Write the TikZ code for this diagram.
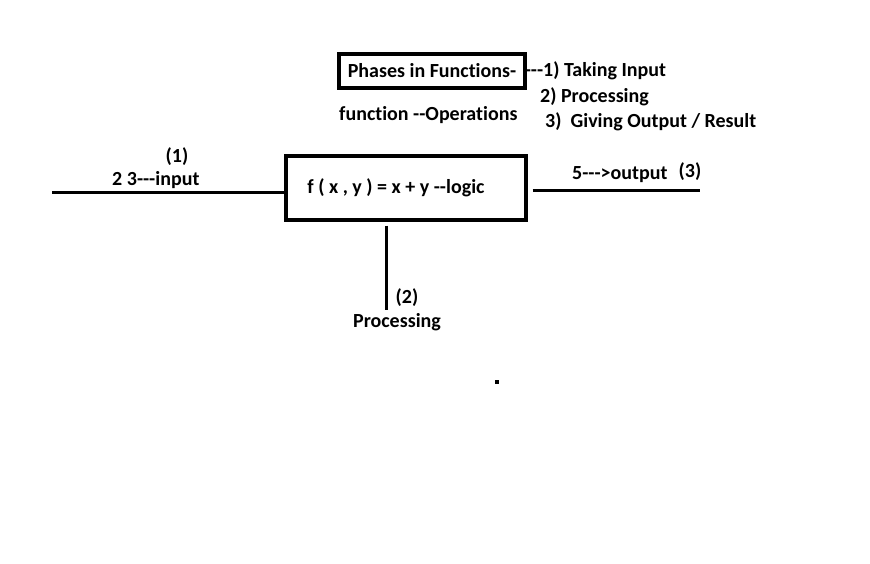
\documentclass[tikz,border=0pt]{standalone}
\usepackage{fontspec}
\setmainfont{Carlito}[Ligatures={TeXOff,NoCommon}]
\usetikzlibrary{positioning}

\begin{document}
\begin{tikzpicture}[
    x=1pt, y=-1pt,
    lbl/.style={font=\fontsize{20}{24}\selectfont\bfseries, inner sep=0pt},
    frame/.style={draw, line width=3.2pt, lbl},
    wire/.style={line width=3pt},
  ]
  \useasboundingbox (0,0) rectangle (870,564);

  % Boxes
  \node[frame, minimum width=186, minimum height=34] (phases) at (432,71) {Phases in Functions-};
  \node[frame, minimum width=240, minimum height=64] (fbox) at (406,188) {};
  \node[lbl] (logic) at ([xshift=-10pt]fbox.center) {f ( x , y ) = x + y --logic};

  % Texts
  \node[lbl, anchor=west] (ph1) at ([xshift=-2pt]phases.east) {---1) Taking Input};
  \node[lbl, anchor=west] (ph2) at (540,97) {2) Processing};
  \node[lbl, anchor=west] (ph3) at (545,122) {3)\ \ Giving Output / Result};
  \node[lbl, anchor=west] (ops) at (339,115) {function --Operations};
  \node[lbl] (in1) at (177,157) {(1)};
  \node[lbl, anchor=west] (inval) at (112,180) {2 3---input};
  \node[lbl, anchor=west] (outval) at (572,175) {5---{>}output};
  \node[lbl] (out3) at (690,172) {(3)};
  \node[lbl] (pr2) at (407,298) {(2)};
  \node[lbl] (prtext) at (397,322) {Processing};
  \node[fill, inner sep=0pt, minimum width=3.5, minimum height=4.5] (dot) at (497,382) {};

  % Free ends
  \coordinate (inEnd) at (52,193);
  \coordinate (outEnd) at (700,191);
  \coordinate (prEnd) at (386,310);

  % Wires
  \draw[wire] (inEnd) -- (inEnd -| fbox.west);
  \draw[wire] ([xshift=5pt]fbox.east |- outEnd) -- (outEnd);
  \draw[wire] ([yshift=-4pt]fbox.south -| prEnd) -- (prEnd);

\end{tikzpicture}
\end{document}
